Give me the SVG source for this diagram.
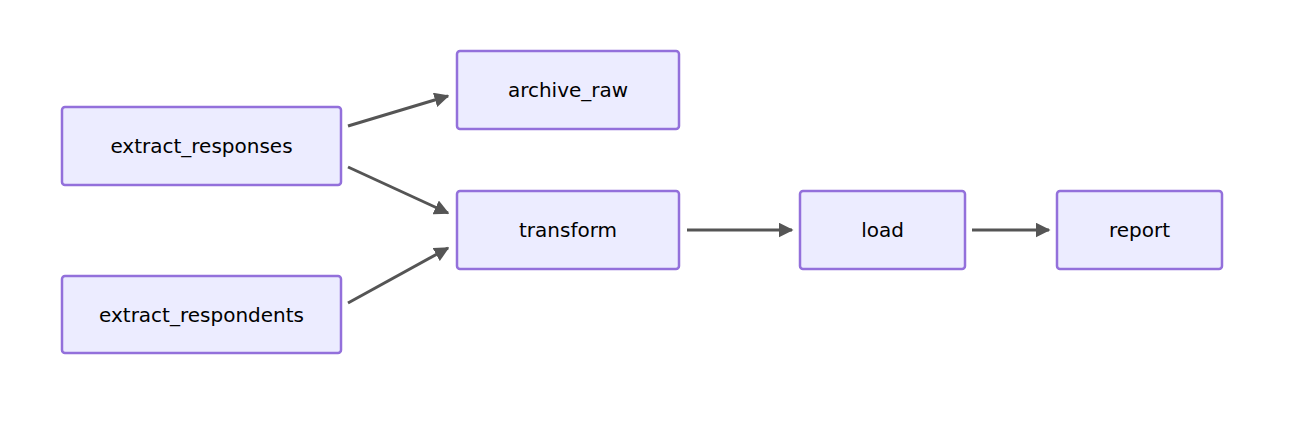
<svg xmlns="http://www.w3.org/2000/svg" width="1289" height="443" viewBox="0 0 1289 443">
<style>
.n rect{fill:#ECECFF;stroke:#9370DB;stroke-width:2.5}
.n text{font-family:"DejaVu Sans",sans-serif;font-size:20px;fill:#000;text-anchor:middle;dominant-baseline:central}
.e path{stroke:#555;stroke-width:3;fill:none;marker-end:url(#a)}
</style>
<defs><marker id="a" viewBox="0 0 10 10" refX="9" refY="5" markerWidth="5" markerHeight="5" orient="auto" markerUnits="strokeWidth"><path d="M0,0L10,5L0,10z" fill="#555"/></marker></defs>
<rect width="1289" height="443" fill="#fff"/>
<g class="e">
<path d="M348,126L448,96"/>
<path d="M348,167L448,213"/>
<path d="M348,303L448,248"/>
<path d="M687,230L792,230"/>
<path d="M972,230L1049,230"/>
</g>
<g class="n" id="extract_responses"><rect x="62" y="107" width="279" height="78" rx="3"/><text x="201.5" y="146">extract_responses</text></g>
<g class="n" id="extract_respondents"><rect x="62" y="276" width="279" height="77" rx="3"/><text x="201.5" y="314.5">extract_respondents</text></g>
<g class="n" id="archive_raw"><rect x="457" y="51" width="222" height="78" rx="3"/><text x="568" y="90">archive_raw</text></g>
<g class="n" id="transform"><rect x="457" y="191" width="222" height="78" rx="3"/><text x="568" y="230">transform</text></g>
<g class="n" id="load"><rect x="800" y="191" width="165" height="78" rx="3"/><text x="882.5" y="230">load</text></g>
<g class="n" id="report"><rect x="1057" y="191" width="165" height="78" rx="3"/><text x="1139.5" y="230">report</text></g>
</svg>
